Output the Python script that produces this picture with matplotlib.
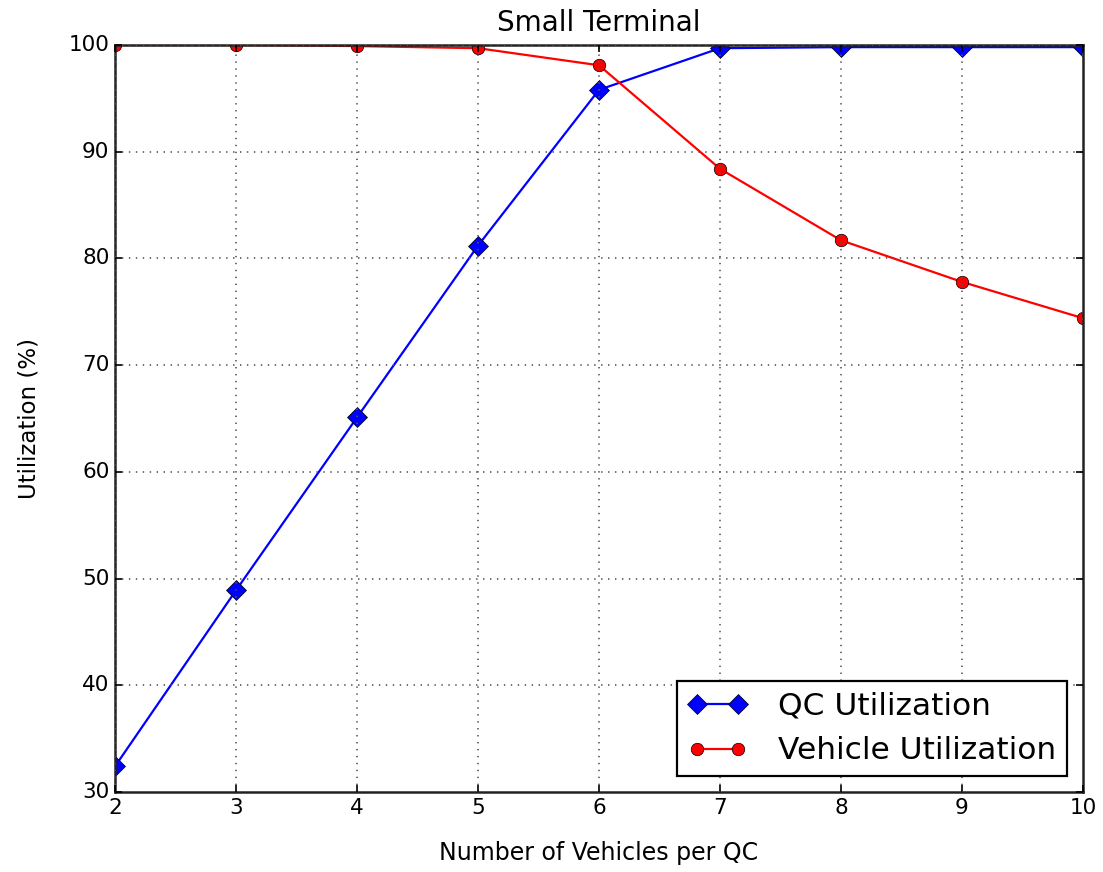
import matplotlib
matplotlib.use("Agg")
import matplotlib.pyplot as plt

plt.style.use('classic')

vehicles = [2, 3, 4, 5, 6, 7, 8, 9, 10]
qc_util = [32.4, 48.9, 65.1, 81.2, 95.8, 99.7, 99.8, 99.8, 99.8]
veh_util = [100.0, 100.0, 99.9, 99.7, 98.1, 88.4, 81.7, 77.8, 74.4]

fig = plt.figure(figsize=(11.03, 8.72), dpi=100, facecolor='white')
ax = fig.add_axes([115/1103, 1 - 792/872, (1083-115)/1103, (792-45)/872])

ax.plot(vehicles, qc_util, color='blue', marker='D', markersize=10, linewidth=1.6,
        label='QC Utilization')
ax.plot(vehicles, veh_util, color='red', marker='o', markersize=9, linewidth=1.6,
        label='Vehicle Utilization')

ax.set_xlim(2, 10)
ax.set_ylim(30, 100)
ax.grid(True, color='#555555', linestyle=(0, (1, 4)), linewidth=1.2)
for s in ax.spines.values():
    s.set_linewidth(1.8)
    s.set_color('#222222')
ax.tick_params(labelsize=15.5, width=1.2, length=5)
ax.set_xlabel('Number of Vehicles per QC', fontsize=17, labelpad=17)
ax.set_ylabel('Utilization (%)', fontsize=16.5, labelpad=20)
ax.set_title('Small Terminal', fontsize=20, pad=10)
leg = ax.legend(loc='lower right', fontsize=22.5, numpoints=2, borderaxespad=0.5,
                handlelength=1.9, handletextpad=1.0, labelspacing=0.5,
                borderpad=0.35)
leg.get_frame().set_linewidth(1.6)

fig.savefig('out.png', dpi=100, facecolor='white')
